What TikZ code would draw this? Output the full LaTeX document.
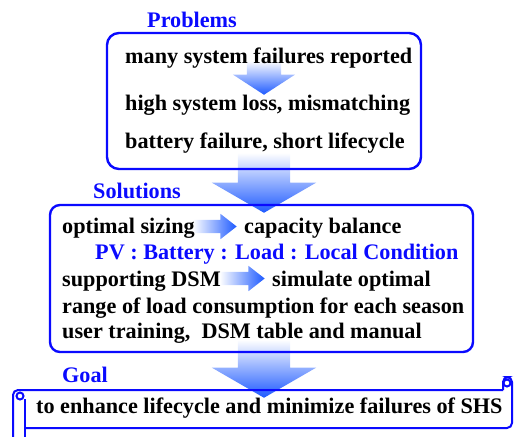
\documentclass[tikz,border=0pt]{standalone}
\usepackage{fontspec}
\setmainfont{Liberation Serif}
\usetikzlibrary{shapes.arrows}

\definecolor{textblue}{RGB}{10,10,255}
\definecolor{arrowblue}{RGB}{30,90,255}

\begin{document}
\begin{tikzpicture}[
    x=1pt, y=-1pt,
    every node/.style={inner sep=0pt, font=\fontsize{22.2}{26}\selectfont\bfseries},
    line/.style={anchor=base west},
    heading/.style={anchor=base west, text=textblue},
    frame/.style={draw=textblue, line width=2.4pt, rounded corners=12pt},
    scroll/.style={draw=textblue, line width=2pt},
    % shaded block arrows: #1 = half shaft, #2 = head extend, #3 = tip angle
    blockarrow/.style n args={3}{single arrow, draw=none, inner ysep=#1,
        single arrow head extend=#2, single arrow tip angle=#3, anchor=tip},
    downarrow/.style={blockarrow={26pt}{26pt}{120}, rotate=-90, minimum height=60pt,
        top color=white, bottom color=arrowblue},
    rightarrow/.style={blockarrow={6.5pt}{6pt}{76}, left color=white, right color=arrowblue},
]

  \useasboundingbox (0,0) rectangle (515,437);

  % arrows go first, frames and text sit on top
  \node[downarrow, blockarrow={17pt}{14pt}{114}, minimum height=34pt] (step) at (264,95) {};
  \node[downarrow] (down1) at (264,213) {};
  \node[downarrow, minimum height=58pt] (down2) at (264,398) {};
  \node[rightarrow, minimum height=44pt] (size) at (237,226.5) {};
  \node[rightarrow, minimum height=45pt] (dsm) at (265,278.5) {};

  % problems
  \node[heading] (problems) at (147,27) {Problems};
  \node[frame, minimum width=314pt, minimum height=136pt] (probbox) at (264,101) {};
  \node[line] (p1) at (125,63) {many system failures reported};
  \node[line] (p2) at (125,110) {high system loss, mismatching};
  \node[line] (p3) at (125,148) {battery failure, short lifecycle};

  % solutions
  \node[heading] (solutions) at (93,198) {Solutions};
  \node[frame, rounded corners=10pt, minimum width=423pt, minimum height=147pt] (solbox) at (261.5,278.5) {};
  \node[line] (s1) at (62,233) {optimal sizing};
  \node[line] (s1b) at (244,233) {capacity balance};
  \node[line, text=textblue] (s2) at (95,259) {PV : Battery : Load : Local Condition};
  \node[line] (s3) at (62,286) {supporting DSM};
  \node[line] (s3b) at (272,286) {simulate optimal};
  \node[line] (s4) at (62,313) {range of load consumption for each season};
  \node[line] (s5) at (62,338) {user training,\ \ DSM table and manual};

  % goal on a scroll
  \node[heading] (goal) at (62,382) {Goal};
  \draw[scroll, rounded corners=5pt] (13,450) -- (13,390) -- (503,390);
  \draw[scroll, rounded corners=5pt] (503,390) -- (503,377) -- (512,377) -- (512,428) -- (25,428);
  \draw[scroll] (25,399) -- (25,450);
  \draw[scroll] (507,383) circle[radius=3.5pt];
  \draw[scroll] (20,396) circle[radius=3.5pt];
  \node[line] (g1) at (36,413) {to enhance lifecycle and minimize failures of SHS};
\end{tikzpicture}
\end{document}
